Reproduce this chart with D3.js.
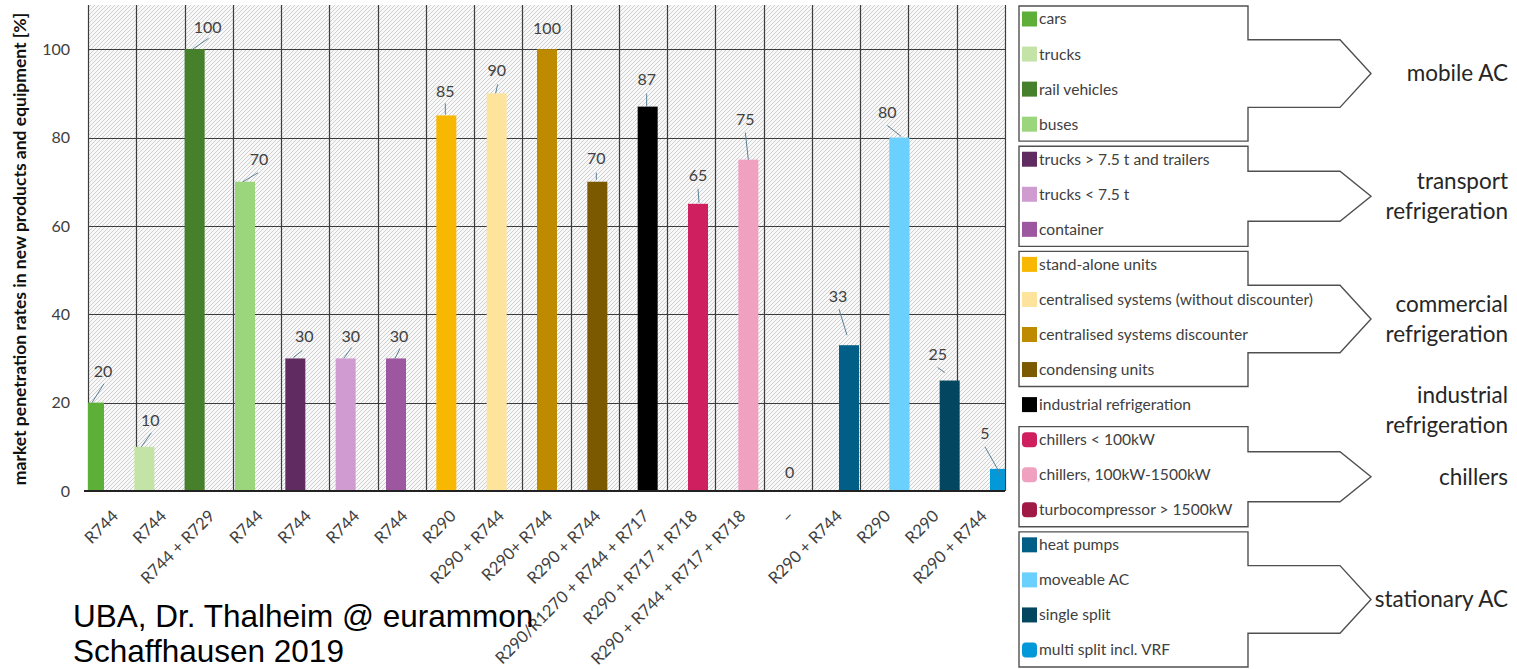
<!DOCTYPE html>
<html>
<head>
<meta charset="utf-8">
<script src="https://cdn.jsdelivr.net/npm/d3@7"></script>
<style>
  body { margin: 0; background: #fff; }
  svg { display: block; font-family: Lato, "Open Sans", sans-serif; }
</style>
</head>
<body>
<svg id="chart" width="1517" height="669"></svg>
<script>
// Refrigerant used per application (x-axis tick labels)
const refrigerants = [
  "R744", "R744", "R744 + R729", "R744", "R744", "R744", "R744",
  "R290", "R290 + R744", "R290+ R744", "R290 + R744",
  "R290/R1270 + R744 + R717", "R290 + R717 + R718", "R290 + R744 + R717 + R718",
  "\u2013", "R290 + R744", "R290", "R290", "R290 + R744"
];

// Market penetration in new products and equipment [%]
const penetration = [20, 10, 100, 70, 30, 30, 30, 85, 90, 100, 70, 87, 65, 75, 0, 33, 80, 25, 5];

// Application of each bar (legend entries)
const applications = [
  "cars", "trucks", "rail vehicles", "buses",
  "trucks > 7.5 t and trailers", "trucks < 7.5 t", "container",
  "stand-alone units", "centralised systems (without discounter)",
  "centralised systems discounter", "condensing units",
  "industrial refrigeration",
  "chillers < 100kW", "chillers, 100kW-1500kW", "turbocompressor > 1500kW",
  "heat pumps", "moveable AC", "single split", "multi split incl. VRF"
];

const appColors = [
  "#5daf38", "#c3e4a6", "#46802b", "#9cd67c",
  "#5f2b60", "#cf9bd1", "#9d56a0",
  "#f8b700", "#fde39b", "#bd8a00", "#7a5900",
  "#000000",
  "#d01f5e", "#f1a1c0", "#a01a46",
  "#015f87", "#6bd0fd", "#02465f", "#0399d8"
];

// Sector groups bracketing the legend rows (first/last row index)
const sectorNames = [["mobile AC"], ["transport", "refrigeration"], ["commercial", "refrigeration"],
                     ["industrial", "refrigeration"], ["chillers"], ["stationary AC"]];
const sectorFirst = [0, 4, 7, 11, 12, 15];
const sectorLast  = [3, 6, 10, 11, 14, 18];
const sectorBoxed = [true, true, true, false, true, true];

const yTicks = [0, 20, 40, 60, 80, 100];

const yTitle = "market penetration rates in new products and equipment [%]";
const credits = ["UBA, Dr. Thalheim @ eurammon", "Schaffhausen 2019"];

// ---- layout -------------------------------------------------------------
const svg = d3.select("#chart");
const plot = { left: 88, right: 1005, top: 5, bottom: 491 };
const textCol = "#404040";

const idx = d3.range(refrigerants.length);

const x = d3.scaleBand().domain(idx).range([plot.left, plot.right]).padding(0);
const barX = d3.scalePoint().domain(idx).range([94, 1000]);
const barW = 20;
const y = d3.scaleLinear().domain([0, 110]).range([plot.bottom, plot.top]);

// value-label placement relative to bar top, and leader line (relative to label)
const labelOff = [
  [9, -31], [6, -26], [13, -22], [14, -22], [9, -22], [5, -22], [3, -22],
  [-1, -24], [0, -23], [0, -21], [-1, -23], [-1, -27], [0, -28], [-3, -40],
  [-9, -19], [-11, -49], [-12, -25], [-12, -26], [-15, -36]
];
const leaders = [
  [1, 12, -11, 31], [1, 12, -9, 26], [1, 11, -15, 22], [-1, 13, -16, 22],
  [-2, 14, -11, 21], [1, 11, -7, 22], [1, 12, -4, 22],
  [0, 12, 0, 23], [1, 14, -1, 23], null, [0, 14, 0, 21], [0, 14, 0, 27],
  [0, 13, 1, 27], [0, 13, 3, 40], null, [1, 13, 9, 39], [0, 13, 14, 24],
  [0, 13, 7, 18], [0, 14, 17, 44]
];

// ---- background hatch ---------------------------------------------------
const defs = svg.append("defs");
const pat = defs.append("pattern")
  .attr("id", "hatch").attr("patternUnits", "userSpaceOnUse")
  .attr("width", 4).attr("height", 4);
pat.append("rect").attr("width", 4).attr("height", 4).attr("fill", "#f8f8f8");
pat.append("path").attr("d", "M-1,1 l2,-2 M0,4 l4,-4 M3,5 l2,-2")
  .attr("stroke", "#d0d0d0").attr("stroke-width", 1);

defs.append("clipPath").attr("id", "plotClip")
  .append("rect")
  .attr("x", plot.left).attr("y", plot.top)
  .attr("width", plot.right - plot.left).attr("height", plot.bottom - plot.top);

svg.append("rect")
  .attr("x", plot.left).attr("y", plot.top)
  .attr("width", plot.right - plot.left).attr("height", plot.bottom - plot.top)
  .attr("fill", "url(#hatch)");

// ---- grid -----------------------------------------------------------------
const grid = svg.append("g").attr("stroke", "#3c3c3c").attr("stroke-width", 1.2);
grid.selectAll("line.h").data(yTicks.filter(t => t > 0)).join("line")
  .attr("class", "h")
  .attr("x1", plot.left).attr("x2", plot.right)
  .attr("y1", d => Math.round(y(d)) + 0.5).attr("y2", d => Math.round(y(d)) + 0.5);
grid.selectAll("line.v").data(d3.range(refrigerants.length + 1)).join("line")
  .attr("class", "v")
  .attr("x1", d => Math.round(plot.left + d * x.step()) + 0.5)
  .attr("x2", d => Math.round(plot.left + d * x.step()) + 0.5)
  .attr("y1", plot.top).attr("y2", plot.bottom);

// ---- bars -----------------------------------------------------------------
svg.append("g").attr("clip-path", "url(#plotClip)")
  .selectAll("rect").data(idx).join("rect")
  .attr("x", i => barX(i) - barW / 2)
  .attr("width", barW)
  .attr("y", i => y(penetration[i]))
  .attr("height", i => y(0) - y(penetration[i]))
  .attr("fill", i => appColors[i]);

// zero axis
svg.append("line")
  .attr("x1", 84).attr("x2", plot.right)
  .attr("y1", y(0)).attr("y2", y(0))
  .attr("stroke", "#222").attr("stroke-width", 2);

// ---- y axis ---------------------------------------------------------------
const yAxis = d3.axisLeft(y).tickValues(yTicks).tickSize(0).tickPadding(0);
const yg = svg.append("g").attr("transform", `translate(70,0)`).call(yAxis);
yg.select(".domain").remove();
yg.selectAll("text").attr("font-family", "Lato, sans-serif")
  .attr("font-size", 16).attr("fill", textCol);

svg.append("text")
  .attr("transform", `translate(26,${(plot.top + plot.bottom) / 2 + 1}) rotate(-90)`)
  .attr("text-anchor", "middle")
  .attr("font-size", 17.5).attr("font-weight", 700).attr("fill", "#111")
  .text(yTitle);

// ---- x tick labels --------------------------------------------------------
const xg = svg.append("g");
xg.selectAll("text").data(idx).join("text")
  .attr("transform", i => `translate(${x(i) + x.bandwidth() / 2 + 3},${plot.bottom + 22}) rotate(-45)`)
  .attr("text-anchor", "end")
  .attr("dy", "0.35em")
  .attr("font-size", 16.5).attr("fill", textCol)
  .text(i => refrigerants[i]);

// ---- value labels ---------------------------------------------------------
const lab = svg.append("g");
idx.forEach(i => {
  const lx = barX(i) + labelOff[i][0];
  const ly = y(penetration[i]) + labelOff[i][1];
  const L = leaders[i];
  if (L) {
    lab.append("line")
      .attr("x1", lx + L[0]).attr("y1", ly + L[1])
      .attr("x2", lx + L[2]).attr("y2", ly + L[3])
      .attr("stroke", "#5a7f96").attr("stroke-width", 1);
  }
  lab.append("text")
    .attr("x", lx).attr("y", ly).attr("dy", "0.35em")
    .attr("text-anchor", "middle")
    .attr("font-size", 16).attr("fill", textCol)
    .text(penetration[i]);
});

// ---- legend ---------------------------------------------------------------
const row = d3.scalePoint().domain(idx).range([19, 650]);
const leg = svg.append("g");
const boxL = 1019, boxR = 1248, notchX = 1340, tipX = 1371;

sectorNames.forEach((name, g) => {
  const top = row(sectorFirst[g]) - 13;
  const bot = row(sectorLast[g]) + 17;
  const mid = (top + bot) / 2;
  if (sectorBoxed[g]) {
    const inset = (bot - top) * 0.25;
    const p = d3.path();
    p.moveTo(boxL, top); p.lineTo(boxR, top); p.lineTo(boxR, top + inset);
    p.lineTo(notchX, top + inset); p.lineTo(tipX, mid); p.lineTo(notchX, bot - inset);
    p.lineTo(boxR, bot - inset); p.lineTo(boxR, bot); p.lineTo(boxL, bot); p.closePath();
    leg.append("path").attr("d", p.toString())
      .attr("fill", "none").attr("stroke", "#505050").attr("stroke-width", 1.4);
  }
  const t = leg.append("text")
    .attr("text-anchor", "end").attr("font-size", 22.5).attr("fill", "#262626");
  const lh = 30;
  const cy = sectorBoxed[g] ? mid : row(sectorFirst[g]) + 6;
  name.forEach((ln, k) => {
    t.append("tspan").attr("x", 1508)
      .attr("y", cy + (k - (name.length - 1) / 2) * lh)
      .attr("dy", "0.35em").text(ln);
  });
});

const roundedRows = new Set([12, 13, 14, 18]);
leg.selectAll("rect.sw").data(idx).join("rect")
  .attr("class", "sw")
  .attr("x", 1022).attr("y", i => row(i) - 7.5)
  .attr("width", 15).attr("height", 15)
  .attr("rx", i => roundedRows.has(i) ? 4 : 0)
  .attr("fill", i => appColors[i]);
leg.selectAll("text.it").data(idx).join("text")
  .attr("class", "it")
  .attr("x", 1039).attr("y", i => row(i)).attr("dy", "0.35em")
  .attr("font-size", 15.6).attr("fill", textCol)
  .text(i => applications[i]);

// ---- credits --------------------------------------------------------------
svg.append("g").selectAll("text").data(credits).join("text")
  .attr("x", 73).attr("y", (d, k) => 627 + k * 35)
  .attr("font-family", "'Liberation Sans', Arial, sans-serif")
  .attr("font-size", 31.5).attr("fill", "#000")
  .text(d => d);
</script>
</body>
</html>
